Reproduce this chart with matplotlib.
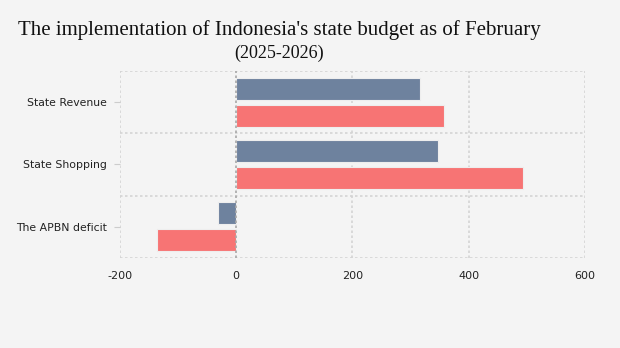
import matplotlib.pyplot as plt
import numpy as np

categories = ['State Revenue', 'State Shopping', 'The APBN deficit']
values_2025 = [316, 347, -31]
values_2026 = [357, 493, -136]
x_ticks = [-200, 0, 200, 400, 600]

bg = '#f4f4f4'
blue = '#6e829e'
red = '#f77474'

fig = plt.figure(figsize=(6.2, 3.48), dpi=100, facecolor=bg)
ax = fig.add_axes([0.1935, 0.2586, 0.75, 0.5374], facecolor=bg)

y = np.arange(len(categories))
h = 0.355
ax.barh(y - 0.218, values_2025, height=h, color=blue, edgecolor='#eeeeee', linewidth=0.8, zorder=3)
ax.barh(y + 0.218, values_2026, height=h, color=red, edgecolor='#eeeeee', linewidth=0.8, zorder=3)

ax.set_xlim(-200, 600)
ax.set_ylim(2.5, -0.5)
ax.set_xticks(x_ticks)
ax.set_xticklabels([str(t) for t in x_ticks])
ax.set_yticks(y)
ax.set_yticklabels(categories)

# dotted grid: vertical at ticks, horizontal at category boundaries
for xv in x_ticks:
    if xv == 0:
        continue
    ax.axvline(xv, color='#d4d4d4', linestyle=(0, (1.5, 1.5)), linewidth=1.2, zorder=1)
for yb in [-0.5, 0.5, 1.5, 2.5]:
    ax.axhline(yb, color='#d4d4d4', linestyle=(0, (1.5, 1.5)), linewidth=1.2, zorder=1)
ax.axvline(0, color='#a8a8a8', linestyle=(0, (1.5, 1.5)), linewidth=1.2, zorder=4)

for s in ax.spines.values():
    s.set_visible(False)

ax.tick_params(axis='x', length=0, pad=9.5, labelsize=8, colors='#222222')
ax.tick_params(axis='y', length=4, width=0.8, color='#cccccc', pad=5.5, labelsize=7.8, labelcolor='#222222')

fig.text(279 / 620, 1 - 30 / 348, "The implementation of Indonesia's state budget as of February",
         ha='center', va='center', fontsize=15, family='Liberation Serif', color='#111111')
fig.text(279 / 620, 1 - 53 / 348, "(2025-2026)", ha='center', va='center',
         fontsize=13, family='Liberation Serif', color='#111111')

fig.savefig('out.png', dpi=100, facecolor=bg)
